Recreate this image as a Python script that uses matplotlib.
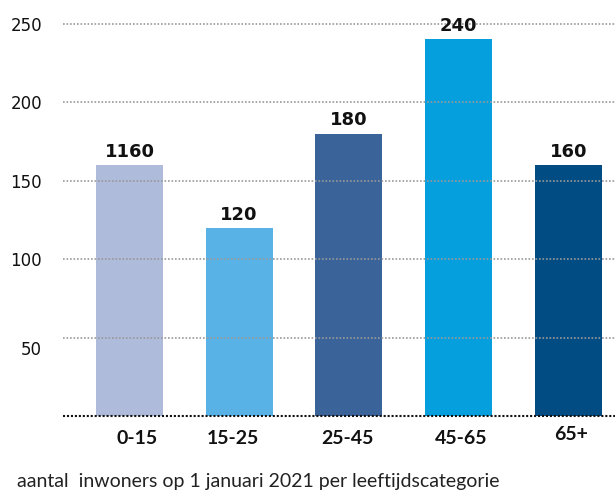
import matplotlib
matplotlib.use("Agg")
import matplotlib.pyplot as plt
import matplotlib.transforms as mtransforms

categories = ["0-15", "15-25", "25-45", "45-65", "65+"]
values = [160, 120, 180, 240, 160]
value_labels = ["1160", "120", "180", "240", "160"]
bar_colors = ["#AFBBDB", "#59B2E6", "#3A6399", "#069FDD", "#024C84"]
yticks = [50, 100, 150, 200, 250]
caption = "aantal  inwoners op 1 januari 2021 per leeftijdscategorie"

W, H = 615, 491
fig = plt.figure(figsize=(W / 100, H / 100), dpi=100)
left_px, right_px, bottom_px, top_px = 63, 615, 416, 8
ax = fig.add_axes([left_px / W, (H - bottom_px) / H,
                   (right_px - left_px) / W, (bottom_px - top_px) / H])

x = list(range(len(categories)))
bars = ax.bar(x, values, width=0.61, color=bar_colors, zorder=1)
ax.set_xlim(-0.606, 4.426)
ax.set_ylim(0, 260)

for t in yticks:
    ax.axhline(t, color="#999999", lw=1.2, linestyle=(0, (1, 1.1)), zorder=2)
ax.axhline(0, color="#111111", lw=1.5, linestyle=(0, (1, 0.9)), zorder=2, clip_on=False)

ax.bar_label(bars, labels=value_labels, padding=3, fontsize=13,
             fontweight="bold", family="DejaVu Sans", color="#111111", zorder=3)

ax.set_yticks(yticks)
ax.set_yticklabels([str(t) for t in yticks], fontsize=12, family="DejaVu Sans", color="#111111")
ax.tick_params(axis="y", length=0, pad=15)
# the lowest tick label sits a bit below its gridline in the reference
for lbl in ax.get_yticklabels():
    if lbl.get_text() == "50":
        lbl.set_transform(lbl.get_transform() +
                          mtransforms.ScaledTranslation(0, -10 / 100, fig.dpi_scale_trans))
ax.set_xticks([])
for s in ax.spines.values():
    s.set_visible(False)

# small horizontal nudges (px) of category labels, as in the reference
label_dx = [8, -6, -1, 3, 3]
label_y = [439, 439, 439, 439, 434]
trans = mtransforms.blended_transform_factory(ax.transData, fig.transFigure)
for i, c in enumerate(categories):
    t = trans + mtransforms.ScaledTranslation(label_dx[i] / 100, 0, fig.dpi_scale_trans)
    ax.text(i, 1 - label_y[i] / H, c, transform=t, ha="center", va="center",
            fontsize=14, fontweight="bold", family="Lato", color="#111111")

fig.text(17 / W, 1 - 487 / H, caption, ha="left", va="baseline",
         fontsize=14, family="Lato", color="#222222")

fig.savefig("out.png", dpi=100)
